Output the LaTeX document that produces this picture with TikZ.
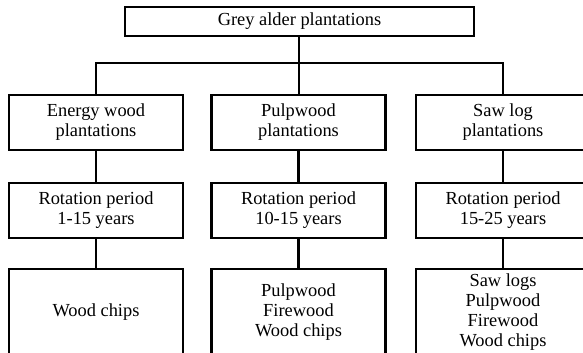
\documentclass[tikz,border=0pt]{standalone}
\usepackage{fontspec}
\setmainfont{Liberation Serif}
\begin{document}
\begin{tikzpicture}[x=1pt,y=-1pt,
  line width=2.3pt,
  box/.style={draw,line width=2.3pt,align=center,inner sep=0pt,
    font=\fontsize{18.4}{20}\selectfont},
  topbox/.style={box,minimum width=349pt,minimum height=29pt},
  rowbox/.style={box,minimum width=174pt,minimum height=55pt},
  endbox/.style={box,minimum width=174pt,minimum height=86pt},
  link/.style={line width=2.3pt}]
\useasboundingbox (0,0) rectangle (583,353);
\clip (0,0) rectangle (583,353);
\fill[white] (0,0) rectangle (583,353);

% root
\node[topbox] (root) at (299.5,21.5) {Grey alder plantations};

% plantation types
\node[rowbox] (a1) at (96,122.5) {Energy wood\\plantations};
\node[rowbox] (b1) at (298.5,122.5) {Pulpwood\\plantations};
\node[rowbox] (c1) at (503,122.5) {Saw log\\plantations};

% rotation periods
\node[rowbox] (a2) at (96,210.5) {Rotation period\\1-15 years};
\node[rowbox] (b2) at (298.5,210.5) {Rotation period\\10-15 years};
\node[rowbox] (c2) at (503,210.5) {Rotation period\\15-25 years};

% products
\node[endbox] (a3) at (96,312) {Wood chips};
\node[endbox] (b3) at (298.5,312) {Pulpwood\\Firewood\\Wood chips};
\node[endbox] (c3) at (503,312) {Saw logs\\Pulpwood\\Firewood\\Wood chips};

% branching bus
\coordinate (bus) at (299,63);
\draw[link] (root.south -| bus) -- (b1.north -| bus);
\draw[link] (a1.north) |- (bus) -| (c1.north);

% columns
\foreach \c in {a,b,c}{
  \draw[link] (\c1.south) -- (\c2.north);
  \draw[link] (\c2.south) -- (\c3.north);
}
\end{tikzpicture}
\end{document}
